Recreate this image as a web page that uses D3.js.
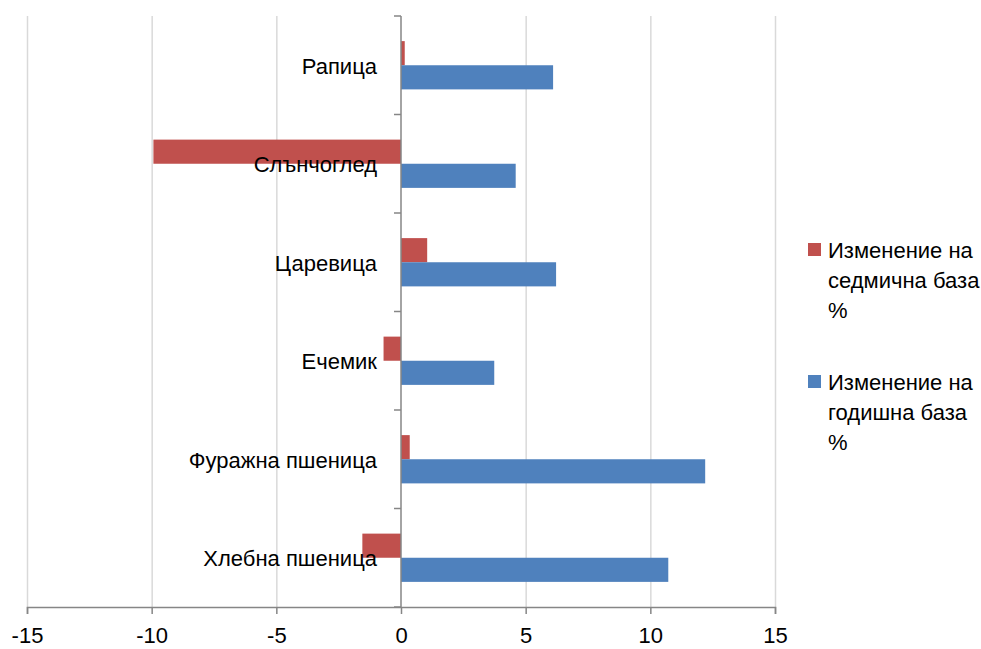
<!DOCTYPE html>
<html>
<head>
<meta charset="utf-8">
<script src="https://cdn.jsdelivr.net/npm/d3@7"></script>
<style>
  body { margin: 0; background: #fff; }
  svg { display: block; font-family: "Liberation Sans", Arial, sans-serif; }
</style>
</head>
<body>
<svg id="chart" width="981" height="649"></svg>
<script>
// data
var categories = ["Рапица", "Слънчоглед", "Царевица", "Ечемик", "Фуражна пшеница", "Хлебна пшеница"];
var weekly = [0.15, -9.93, 1.05, -0.7, 0.35, -1.55];
var yearly = [6.1, 4.6, 6.22, 3.74, 12.2, 10.72];
var seriesNames = [["Изменение на", "седмична база", "%"], ["Изменение на", "годишна база", "%"]];
var seriesColors = ["#C0504D", "#4F81BD"];
var xTicks = [-15, -10, -5, 0, 5, 10, 15];

var svg = d3.select("#chart");
var x = d3.scaleLinear().domain([-15, 15]).range([27, 775]);
var y = d3.scaleBand().domain(categories).range([16, 607]);
var sub = d3.scaleBand().domain([0, 1]).range([y.bandwidth() * 0.255, y.bandwidth() * 0.745]);

// vertical grid lines
svg.append("g").selectAll("line").data(xTicks.filter(function(d){ return d !== 0; }))
  .enter().append("line")
  .attr("x1", function(d){ return x(d) + 0.5; }).attr("x2", function(d){ return x(d) + 0.5; })
  .attr("y1", y.range()[0]).attr("y2", y.range()[1])
  .attr("stroke", "#d9d9d9").attr("stroke-width", 1.5);

// bars
var rows = categories.map(function(c, i){ return {cat: c, vals: [weekly[i], yearly[i]]}; });
var g = svg.append("g").selectAll("g").data(rows).enter().append("g")
  .attr("transform", function(d){ return "translate(0," + y(d.cat) + ")"; });
g.selectAll("rect").data(function(d){ return d.vals.map(function(v, k){ return {v: v, k: k}; }); })
  .enter().append("rect")
  .attr("x", function(d){ return x(Math.min(0, d.v)); })
  .attr("width", function(d){ return Math.abs(x(d.v) - x(0)); })
  .attr("y", function(d){ return sub(d.k); })
  .attr("height", sub.bandwidth())
  .attr("fill", function(d){ return seriesColors[d.k]; });

// x axis
var xAxis = d3.axisBottom(x).tickValues(xTicks).tickSize(7).tickPadding(13)
  .tickFormat(function(d){ return String(d); });
var xa = svg.append("g").attr("transform", "translate(0," + y.range()[1] + ")").call(xAxis);
xa.select(".domain").attr("stroke", "#868686").attr("stroke-width", 1.5);
xa.selectAll(".tick line").attr("stroke", "#868686").attr("stroke-width", 1.5);
xa.selectAll(".tick text").attr("font-size", 22).attr("fill", "#000")
  .attr("font-family", "'Liberation Sans', Arial, sans-serif");

// y axis at zero
var yAxisLine = svg.append("g");
yAxisLine.append("line").attr("x1", x(0)).attr("x2", x(0))
  .attr("y1", y.range()[0]).attr("y2", y.range()[1])
  .attr("stroke", "#868686").attr("stroke-width", 1.5);
var bounds = categories.map(function(c){ return y(c); }).concat([y.range()[1]]);
yAxisLine.selectAll(".yt").data(bounds).enter().append("line")
  .attr("x1", x(0) - 7).attr("x2", x(0))
  .attr("y1", function(d){ return d; }).attr("y2", function(d){ return d; })
  .attr("stroke", "#868686").attr("stroke-width", 1.5);

// category labels
svg.append("g").selectAll("text").data(categories).enter().append("text")
  .attr("x", x(0) - 24)
  .attr("y", function(d){ return y(d) + y.bandwidth() / 2; })
  .attr("dy", "0.38em")
  .attr("text-anchor", "end")
  .attr("font-size", 22)
  .attr("fill", "#000")
  .text(function(d){ return d; });

// legend
var lg = svg.append("g").selectAll("g").data(seriesNames).enter().append("g")
  .attr("transform", function(d, i){ return "translate(808," + (243 + i * 132) + ")"; });
lg.append("rect").attr("width", 13).attr("height", 13)
  .attr("fill", function(d, i){ return seriesColors[i]; });
lg.append("text").attr("x", 20).attr("y", 15).attr("font-size", 22).attr("fill", "#000")
  .selectAll("tspan").data(function(d){ return d; }).enter().append("tspan")
  .attr("x", 20).attr("dy", function(d, i){ return i === 0 ? 0 : 30; })
  .text(function(d){ return d; });
</script>
</body>
</html>
